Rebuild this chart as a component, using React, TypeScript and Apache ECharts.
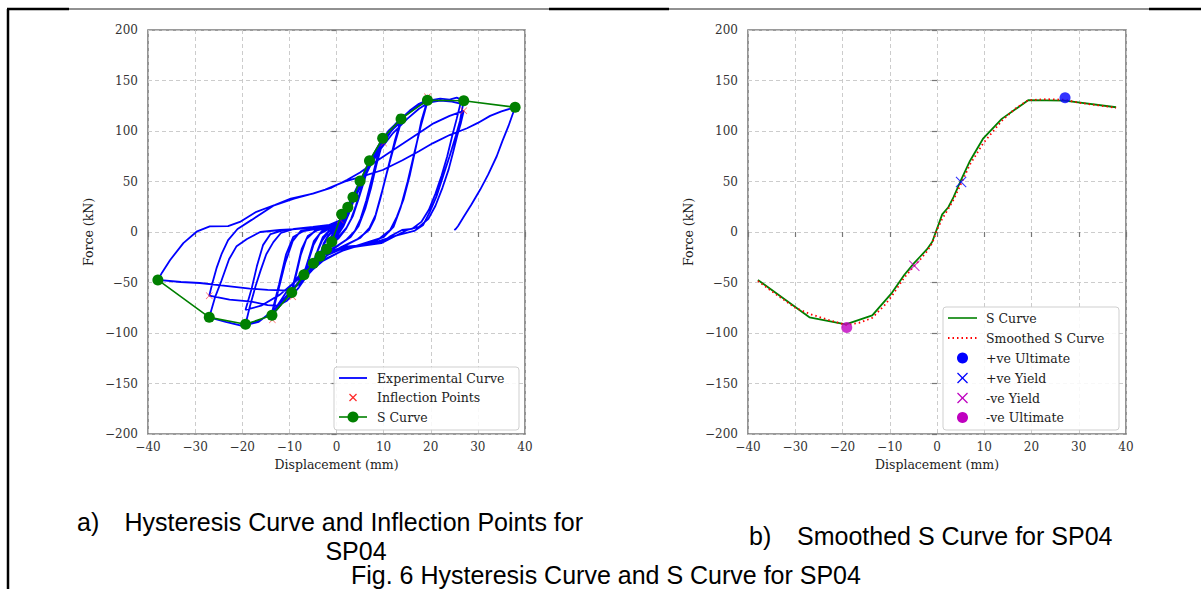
import React, { useEffect, useRef } from "react";
import * as echarts from "echarts";

// ---------- data ----------
const sCurve: number[][] = [
  [-37.9, -47.5], [-27, -84.5], [-19.3, -91.4], [-13.7, -82.5], [-9.5, -60], [-6.9, -42.3],
  [-4.9, -31], [-3.5, -24], [-2.1, -17], [-1, -9.6], [1.1, 17.5], [2.4, 24.5], [3.5, 34.5],
  [5, 50.5], [7, 70.6], [9.8, 92.8], [13.7, 112], [19.3, 130.5], [27, 130], [37.9, 123.5],
];

const smoothedS: number[][] = [
  [-37.9, -48.5], [-34, -62], [-30, -75], [-27, -81], [-23, -87], [-19.3, -92], [-16.5, -90],
  [-13.7, -85], [-11, -72], [-9.5, -63], [-6.9, -45], [-4.9, -34], [-3.5, -27], [-2.1, -19],
  [-1, -11], [0, 2], [1.1, 13], [2.4, 23], [3.5, 32], [5, 47], [7, 67], [9.8, 88], [13.7, 110],
  [16.5, 122], [19.3, 130.5], [23, 131.5], [27, 131], [30, 128], [34, 125.5], [37.9, 123],
];

const inflectionPoints: number[][] = [
  [-27, -63], [-13.6, -87], [-9.3, -64], [0.8, 12], [10, 88], [19.3, 134], [27, 120],
];

const posUltimate: number[][] = [[27.1, 133]];
const posYield: number[][] = [[5.1, 49.5]];
const negYield: number[][] = [[-4.8, -33.5]];
const negUltimate: number[][] = [[-19.1, -94.5]];

// experimental hysteresis curve, cycle by cycle
const exp01 = [[0, 0], [0.5, 8], [1.1, 17.5], [0.6, 9], [0, 1], [-0.5, -5], [-1, -9.6], [-0.4, -3], [0.2, 4], [0.7, 11], [1.1, 16], [0.5, 6], [-0.3, -3], [-1, -9]];
const exp02 = [[-0.4, -1], [0.5, 7], [1.5, 16], [2.4, 24.5], [1.7, 15], [0.8, 5], [-0.4, -5], [-1.3, -11], [-2.1, -17], [-1.5, -8], [-0.6, 0], [0.7, 9], [1.7, 18], [2.4, 23], [1.5, 12], [0.4, 2], [-1, -8], [-2.1, -16]];
const exp03 = [[-1.4, -7], [-0.4, 2], [1, 12], [2.2, 22], [3.5, 34.5], [2.7, 23], [1.7, 11], [0.6, 1], [-1, -8], [-2.3, -16], [-3.5, -24], [-2.8, -14], [-1.9, -5], [-0.6, 2], [1, 13], [2.4, 25], [3.5, 33], [2.5, 20], [1.3, 7], [-0.2, -3], [-2, -13], [-3.5, -23]];
const exp04 = [[-2.7, -11], [-1.7, -3], [-0.5, 3], [1, 13], [2.5, 27], [3.8, 39], [5, 50.5], [4.1, 38], [3.1, 25], [2.1, 13], [1, 3], [-0.5, -6], [-2, -14], [-3.5, -22], [-4.9, -31], [-4.1, -20], [-3.1, -9], [-1.7, 0], [0, 5], [1.5, 17], [3, 31], [4.2, 42], [5, 49], [3.9, 34], [2.7, 19], [1.5, 6], [0, -5], [-2, -15], [-3.8, -24], [-4.9, -30]];
const exp05 = [[-3.9, -17], [-2.9, -5], [-1.6, 1], [0, 5], [1.5, 15], [3, 29], [4.5, 44], [5.8, 58], [7, 70.6], [6.1, 57], [5.1, 41], [4.1, 26], [3.1, 13], [2, 3], [0.5, -6], [-1.5, -14], [-3.5, -24], [-5.3, -34], [-6.9, -42.3], [-5.9, -28], [-4.9, -13], [-3.6, -2], [-1.6, 3], [0.5, 7], [2, 16], [3.5, 31], [5, 47], [6.2, 59], [7, 68], [5.9, 51], [4.7, 33], [3.5, 16], [2.1, 4], [0, -7], [-2.5, -18], [-5, -31], [-6.9, -41]];
const exp06 = [[-5.9, -26], [-4.8, -9], [-3.1, 1], [-1, 4], [0.5, 8], [2, 18], [3.5, 32], [5, 48], [6.5, 63], [8, 78], [9.8, 92.8], [8.6, 73], [7.4, 51], [6.3, 31], [5.1, 13], [3.9, 1], [2, -8], [0, -14], [-2.5, -20], [-5, -31], [-7.5, -45], [-9.5, -60], [-8.6, -43], [-7.6, -23], [-6.4, -7], [-4.6, 1], [-2, 4], [0.5, 8], [2, 18], [3.8, 36], [5.5, 53], [7.2, 69], [8.8, 82], [9.8, 89], [8.5, 67], [7.3, 43], [6.1, 23], [4.7, 6], [3, -5], [0.5, -13], [-2.5, -22], [-5.5, -36], [-7.8, -48], [-9.5, -58]];
const exp07 = [[-8.5, -39], [-7.4, -17], [-6.1, -4], [-4, 2], [-1, 5], [1, 10], [2.5, 22], [4, 38], [5.5, 55], [7, 70], [9, 86], [11, 100], [13.7, 112], [12.3, 89], [10.9, 63], [9.6, 39], [8.3, 17], [7, 4], [5, -6], [2, -13], [-1, -20], [-4, -30], [-7, -44], [-10, -62], [-13.7, -82.5], [-12.3, -57], [-10.9, -31], [-9.3, -9], [-7.6, 1], [-4, 4], [-1, 6], [1, 10], [2.5, 22], [4.2, 40], [6, 58], [8, 76], [10, 90], [12, 102], [13.7, 109], [12.1, 83], [10.6, 57], [9.3, 33], [8.1, 13], [6.9, 2], [4.5, -7], [1, -15], [-3, -26], [-7, -43], [-10.5, -64], [-13.7, -80]];
const exp08 = [[-12.2, -52], [-10.7, -22], [-9.2, -5], [-7, 1], [-3, 4], [0, 7], [2, 15], [4, 34], [6, 55], [8, 74], [10, 91], [12.5, 107], [15.5, 120], [17.5, 127], [19.3, 130.5], [18, 110], [16.9, 85], [15.6, 57], [14.2, 32], [12.8, 15], [11.4, 2], [9, -7], [5, -13], [1, -19], [-3, -29], [-7, -45], [-10, -60], [-13, -76], [-16, -87], [-19.3, -91.4], [-18.4, -74], [-17.2, -54], [-16.1, -38], [-14.9, -22], [-13.4, -10], [-11.8, -1], [-9, 3], [-5, 5], [-1.5, 7], [1, 12], [3, 27], [5, 47], [7, 65], [9, 81], [11.5, 99], [14.5, 115], [17, 125], [19.3, 129], [17.9, 105], [16.5, 78], [15.1, 50], [13.6, 24], [12.1, 5], [10, -5], [6, -11], [2, -17], [-3, -28], [-8, -46], [-12, -62], [-16, -73], [-19.3, -77]];
const exp09 = [[-18, -56], [-16.9, -34], [-15.6, -13], [-14, -2], [-11, 2], [-6, 4], [-2, 6], [1, 12], [3.5, 32], [6, 57], [8.5, 79], [11, 97], [14, 113], [17, 124], [19.5, 130], [22, 132], [24, 131], [25.5, 133], [27, 130], [26.2, 110], [25.3, 95], [24, 75], [22.6, 55], [21.2, 35], [19.8, 20], [18.4, 7], [16.5, 1], [13, -3], [9, -9], [5, -13], [1, -16], [-3, -23], [-7, -38], [-10, -55], [-13, -76], [-16.5, -89], [-20, -93], [-23.5, -89], [-27, -84.5]];
const exp10 = [[-25.8, -65], [-24.4, -48], [-22.8, -27], [-21.2, -14], [-19, -7], [-16.2, 0], [-12, 2], [-8, 3], [-4, 5], [-1, 7], [1, 12], [3, 26], [5, 45], [7, 64], [9, 80], [12, 98], [15, 112], [17.5, 122], [19.5, 128], [22, 130], [24.5, 129], [26.3, 127], [25.5, 112], [24.6, 96], [23.5, 75], [22.3, 56], [21, 38], [19.6, 22], [18, 10], [16, 3], [13.9, 2], [11.5, -4], [9.8, -9.6], [6, -13], [1.7, -14.5], [-2.4, -21], [-5, -35], [-8, -55], [-10.5, -68], [-12.5, -73], [-14.6, -72.3], [-18, -69], [-22.7, -67], [-27, -63]];
const exp11 = [[-26.3, -50], [-25.4, -35], [-24.4, -22], [-23, -8], [-21, 3], [-18, 12], [-13.4, 26], [-9, 33], [-4.9, 38.3], [-1, 44], [2.2, 51.5], [5, 59], [7.8, 68], [11, 78], [14.2, 87.8], [17.5, 98], [20.6, 107.6], [24, 115], [27, 120]];
const exp12 = [[26.4, 108], [25.6, 95], [24.8, 80], [23.8, 62], [22.5, 44], [21, 26], [19.5, 13], [17.5, 5], [15, 2], [12.5, -4], [9.5, -11], [5, -14], [1, -17], [-2, -23], [-5, -37], [-8, -52], [-9.9, -58], [-14.6, -57.4], [-18.4, -56], [-24, -53], [-29, -50.5], [-33, -49.5], [-37.9, -47.5]];
const exp13 = [[-37, -40], [-35.3, -27.7], [-32.5, -11], [-29.7, 0.3], [-26.9, 5.5], [-23, 5.8], [-20.5, 10], [-17, 20], [-13, 27], [-9.7, 33], [-5, 38], [-2.4, 42], [1.7, 49.8], [5.5, 55], [9.8, 61.4], [14, 71], [17.5, 80], [20.4, 87.8], [24, 96], [27.7, 102.7], [30, 108], [32.6, 115], [35, 119.5], [37.9, 123.5]];
const exp14 = [[36.5, 105], [35.2, 90], [34, 75], [32.2, 57], [30.5, 42], [28.6, 27], [27, 15], [25.8, 6], [25.3, 3], [25, 2]];

const experimental: number[][] = [
  ...exp01, ...exp02, ...exp03, ...exp04, ...exp05, ...exp06, ...exp07,
  ...exp08, ...exp09, ...exp10, ...exp11, ...exp12, ...exp13, ...exp14,
];

const xAxisName = "Displacement (mm)";
const yAxisName = "Force (kN)";
const captionA1 = "a)";
const captionA2 = "Hysteresis Curve and Inflection Points for";
const captionA3 = "SP04";
const captionB1 = "b)";
const captionB2 = "Smoothed S Curve for SP04";
const figCaption = "Fig. 6 Hysteresis Curve and S Curve for SP04";
const legendLeft = ["Experimental Curve", "Inflection Points", "S Curve"];
const legendRight = ["S Curve", "Smoothed S Curve", "+ve Ultimate", "+ve Yield", "-ve Yield", "-ve Ultimate"];

// ---------- styles ----------
const SERIF = "'DejaVu Serif', serif";
const SANS = "'Liberation Sans', Arial, sans-serif";
const X_SYMBOL =
  "path://M0,0.7L0.7,0L5,4.3L9.3,0L10,0.7L5.7,5L10,9.3L9.3,10L5,5.7L0.7,10L0,9.3L4.3,5Z";
const BLUE = "#0000ff";
const GREEN = "#008000";
const RED = "#ff0000";
const MAGENTA = "#bf00bf";

const fmt = (v: number) => (v < 0 ? "\u2212" + Math.abs(v) : String(v));

function xAxis(gridIndex: number) {
  return {
    type: "value", gridIndex, min: -40, max: 40, interval: 10,
    name: xAxisName, nameLocation: "middle", nameGap: 24,
    nameTextStyle: { fontFamily: SERIF, fontSize: 12.5, color: "#222" },
    axisLine: { show: false },
    axisTick: { show: true, length: 5, lineStyle: { color: "#777", width: 1.2 } },
    axisLabel: { fontFamily: SERIF, fontSize: 12, color: "#333", margin: 7, formatter: fmt },
    splitLine: { show: true, lineStyle: { color: "#c6c6c6", type: [4, 3], width: 0.9 } },
  };
}
function yAxis(gridIndex: number) {
  return {
    type: "value", gridIndex, min: -200, max: 200, interval: 50,
    name: yAxisName, nameLocation: "middle", nameGap: 53,
    nameTextStyle: { fontFamily: SERIF, fontSize: 12.5, color: "#222" },
    axisLine: { show: false },
    axisTick: { show: true, length: 5, lineStyle: { color: "#777", width: 1.2 } },
    axisLabel: { fontFamily: SERIF, fontSize: 12, color: "#333", margin: 10, formatter: fmt },
    splitLine: { show: true, lineStyle: { color: "#c6c6c6", type: [4, 3], width: 0.9 } },
  };
}

function xMark(cx: number, cy: number, r: number, color: string) {
  return [
    { type: "line", shape: { x1: cx - r, y1: cy - r, x2: cx + r, y2: cy + r }, style: { stroke: color, lineWidth: 1.2 } },
    { type: "line", shape: { x1: cx - r, y1: cy + r, x2: cx + r, y2: cy - r }, style: { stroke: color, lineWidth: 1.2 } },
  ];
}
function legText(x: number, y: number, text: string) {
  return { type: "text", x, y, style: { text, fontFamily: SERIF, fontSize: 12.5, fill: "#222", align: "left", verticalAlign: "middle" } };
}
function capText(x: number, y: number, text: string, align = "left") {
  return { type: "text", x, y, style: { text, fontFamily: SANS, fontSize: 25, fill: "#000", align, verticalAlign: "middle" } };
}

export default function App() {
  const ref = useRef<HTMLDivElement>(null);
  useEffect(() => {
    document.body.style.margin = "0";
    if (!ref.current) return;
    const chart = echarts.init(ref.current, undefined, { renderer: "svg" });

    const lRows = [378, 397.5, 417];
    const rRows = [318, 338, 358, 378, 398, 417.5];
    const lx0 = 339, lx1 = 367, lmid = 353, ltx = 377;
    const rx0 = 948, rx1 = 977, rmid = 962.5, rtx = 986;

    const graphic: any[] = [
      // frame lines
      { type: "line", shape: { x1: 8, y1: 9, x2: 8, y2: 589 }, style: { stroke: "#000", lineWidth: 2.5 } },
      { type: "line", shape: { x1: 69, y1: 9, x2: 1149, y2: 9 }, style: { stroke: "#222", lineWidth: 1 } },
      { type: "line", shape: { x1: 7, y1: 9, x2: 69, y2: 9 }, style: { stroke: "#000", lineWidth: 2.5 } },
      { type: "line", shape: { x1: 549, y1: 9, x2: 669, y2: 9 }, style: { stroke: "#000", lineWidth: 2.5 } },
      { type: "line", shape: { x1: 1149, y1: 9, x2: 1201, y2: 9 }, style: { stroke: "#000", lineWidth: 2.5 } },
      // left legend
      { type: "rect", shape: { x: 334, y: 367, width: 185, height: 63, r: 3 }, style: { fill: "rgba(255,255,255,0.85)", stroke: "#cfcfcf", lineWidth: 1 }, z: 100 },
      { type: "line", shape: { x1: lx0, y1: lRows[0], x2: lx1, y2: lRows[0] }, style: { stroke: BLUE, lineWidth: 1.8 }, z: 101 },
      ...xMark(lmid, lRows[1], 3.5, "#ff2a2a").map((e) => ({ ...e, z: 101 })),
      { type: "line", shape: { x1: lx0, y1: lRows[2], x2: lx1, y2: lRows[2] }, style: { stroke: GREEN, lineWidth: 1.6 }, z: 101 },
      { type: "circle", shape: { cx: lmid, cy: lRows[2], r: 5.5 }, style: { fill: GREEN }, z: 101 },
      ...legendLeft.map((t, i) => ({ ...legText(ltx, lRows[i], t), z: 101 })),
      // right legend
      { type: "rect", shape: { x: 943, y: 307, width: 176, height: 123, r: 3 }, style: { fill: "rgba(255,255,255,0.85)", stroke: "#cfcfcf", lineWidth: 1 }, z: 100 },
      { type: "line", shape: { x1: rx0, y1: rRows[0], x2: rx1, y2: rRows[0] }, style: { stroke: GREEN, lineWidth: 1.6 }, z: 101 },
      { type: "line", shape: { x1: rx0, y1: rRows[1], x2: rx1, y2: rRows[1] }, style: { stroke: RED, lineWidth: 1.8, lineDash: [1.5, 3] }, z: 101 },
      { type: "circle", shape: { cx: rmid, cy: rRows[2], r: 5.5 }, style: { fill: BLUE }, z: 101 },
      ...xMark(rmid, rRows[3], 5, BLUE).map((e) => ({ ...e, z: 101 })),
      ...xMark(rmid, rRows[4], 5, MAGENTA).map((e) => ({ ...e, z: 101 })),
      { type: "circle", shape: { cx: rmid, cy: rRows[5], r: 5.5 }, style: { fill: MAGENTA }, z: 101 },
      ...legendRight.map((t, i) => ({ ...legText(rtx, rRows[i], t), z: 101 })),
      // captions
      capText(77, 522, captionA1),
      capText(124.5, 522, captionA2),
      capText(356, 551, captionA3, "center"),
      capText(749, 536, captionB1),
      capText(797, 536, captionB2),
      capText(351, 575, figCaption),
    ];

    chart.setOption({
      animation: false,
      backgroundColor: "#fff",
      grid: [
        { left: 148, top: 30, width: 377, height: 404, show: true, borderColor: "#7a7a7a", borderWidth: 1.6 },
        { left: 748, top: 30, width: 378, height: 404, show: true, borderColor: "#7a7a7a", borderWidth: 1.6 },
      ],
      xAxis: [xAxis(0), xAxis(1)],
      yAxis: [yAxis(0), yAxis(1)],
      series: [
        {
          name: "Experimental Curve", type: "line", xAxisIndex: 0, yAxisIndex: 0, data: experimental,
          symbol: "none", lineStyle: { color: BLUE, width: 1.8 }, itemStyle: { color: BLUE }, z: 2,
        },
        {
          name: "Inflection Points", type: "scatter", xAxisIndex: 0, yAxisIndex: 0, data: inflectionPoints,
          symbol: X_SYMBOL, symbolSize: 7, itemStyle: { color: "#ff2a2a" }, z: 3,
        },
        {
          name: "S Curve", type: "line", xAxisIndex: 0, yAxisIndex: 0, data: sCurve,
          symbol: "circle", symbolSize: 11, showAllSymbol: true,
          lineStyle: { color: GREEN, width: 1.6 }, itemStyle: { color: GREEN }, z: 4,
        },
        {
          name: "S Curve (b)", type: "line", xAxisIndex: 1, yAxisIndex: 1, data: sCurve,
          symbol: "none", lineStyle: { color: GREEN, width: 1.8 }, itemStyle: { color: GREEN }, z: 2,
        },
        {
          name: "Smoothed S Curve", type: "line", xAxisIndex: 1, yAxisIndex: 1, data: smoothedS,
          symbol: "none", lineStyle: { color: RED, width: 1.8, type: [1.5, 3] }, itemStyle: { color: RED }, z: 3,
        },
        {
          name: "+ve Ultimate", type: "scatter", xAxisIndex: 1, yAxisIndex: 1, data: posUltimate,
          symbol: "circle", symbolSize: 11, itemStyle: { color: BLUE }, z: 5,
        },
        {
          name: "+ve Yield", type: "scatter", xAxisIndex: 1, yAxisIndex: 1, data: posYield,
          symbol: X_SYMBOL, symbolSize: 11, itemStyle: { color: BLUE }, z: 5,
        },
        {
          name: "-ve Yield", type: "scatter", xAxisIndex: 1, yAxisIndex: 1, data: negYield,
          symbol: X_SYMBOL, symbolSize: 11, itemStyle: { color: MAGENTA }, z: 5,
        },
        {
          name: "-ve Ultimate", type: "scatter", xAxisIndex: 1, yAxisIndex: 1, data: negUltimate,
          symbol: "circle", symbolSize: 11, itemStyle: { color: MAGENTA }, z: 5,
        },
      ],
      graphic,
    });
    return () => chart.dispose();
  }, []);
  return <div ref={ref} style={{ width: 1201, height: 589 }} />;
}
